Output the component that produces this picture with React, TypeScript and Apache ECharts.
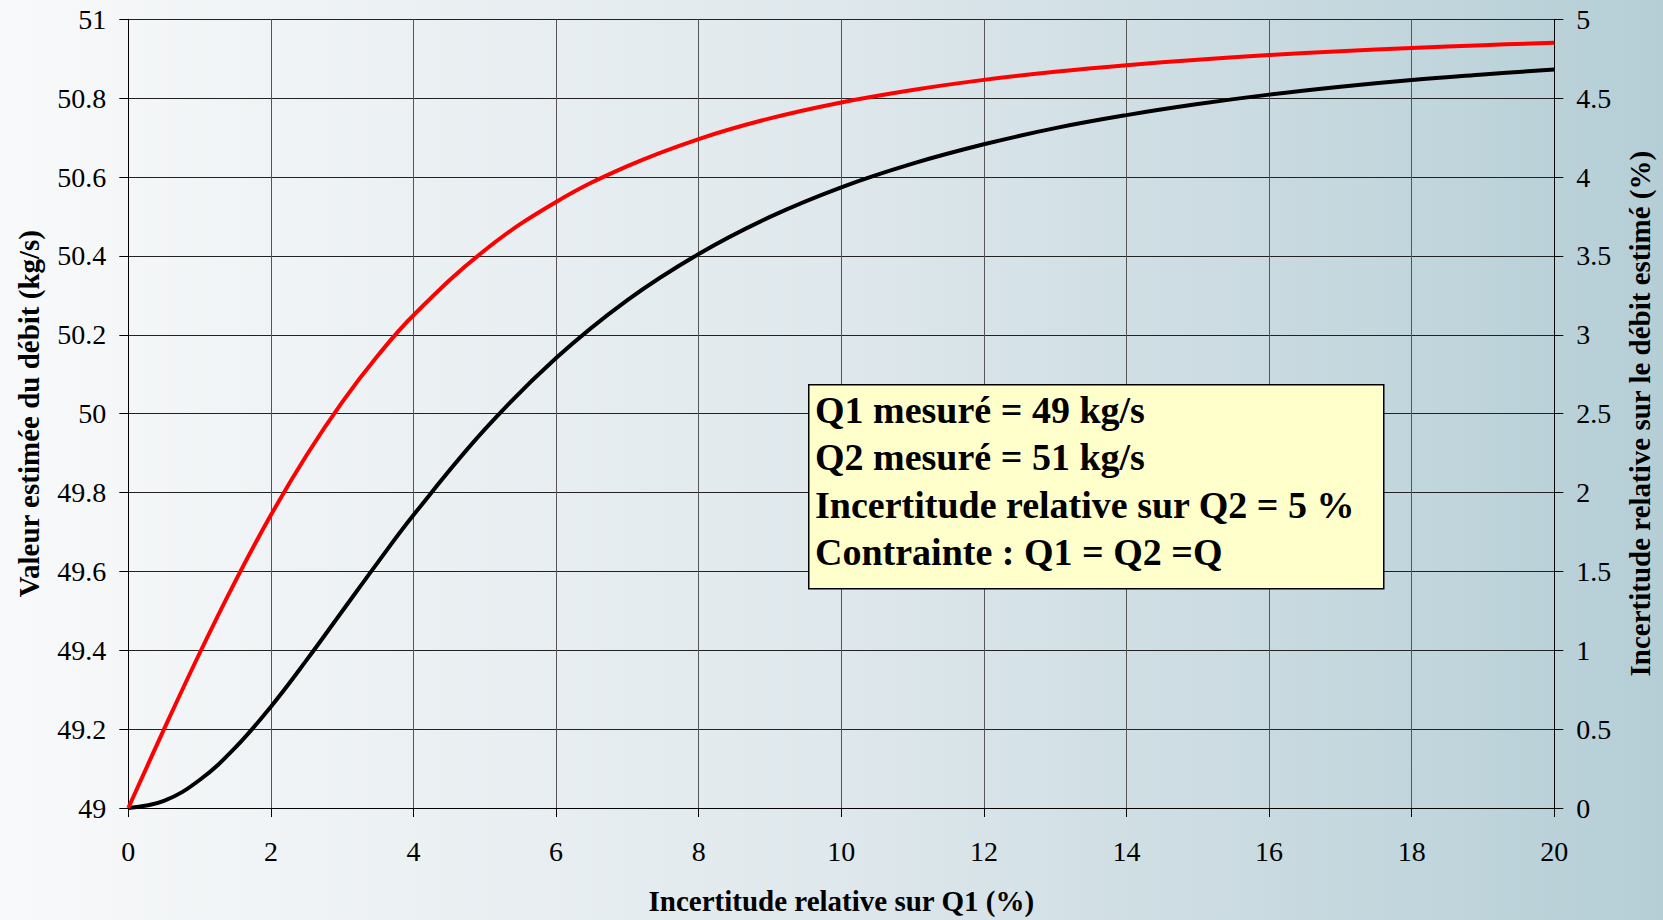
import React, { useEffect, useRef } from "react";
import * as echarts from "echarts";

const xValues = [0, 0.5, 1, 1.5, 2, 2.5, 3, 3.5, 4, 5, 6, 7, 8, 9, 10, 11, 12, 13, 14, 15, 16, 17, 18, 19, 20];
const debitEstime = [49, 49.018, 49.071, 49.153, 49.257, 49.375, 49.499, 49.623, 49.743, 49.96, 50.141, 50.288, 50.405, 50.499, 50.574, 50.634, 50.683, 50.724, 50.757, 50.785, 50.809, 50.829, 50.846, 50.86, 50.873];
const incertitudeEstime = [0, 0.498, 0.981, 1.437, 1.857, 2.236, 2.573, 2.868, 3.124, 3.536, 3.842, 4.069, 4.241, 4.372, 4.473, 4.552, 4.616, 4.667, 4.709, 4.744, 4.773, 4.797, 4.818, 4.836, 4.851];
const boxLines = [
  "Q1 mesuré = 49 kg/s",
  "Q2 mesuré = 51 kg/s",
  "Incertitude relative sur Q2 = 5 %",
  "Contrainte : Q1 = Q2 =Q",
];
const xName = "Incertitude relative sur Q1 (%)";
const yLeftName = "Valeur estimée du débit (kg/s)";
const yRightName = "Incertitude relative sur le débit estimé (%)";

const FONT = "Liberation Serif";

export default function App() {
  const ref = useRef<HTMLDivElement>(null);
  useEffect(() => {
    document.body.style.margin = "0";
    const chart = echarts.init(ref.current!, null, { renderer: "svg" });
    const labelStyle = { color: "#000", fontFamily: FONT, fontSize: 28 };
    const nameStyle = { color: "#000", fontFamily: FONT, fontSize: 29, fontWeight: "bold" as const };
    chart.setOption({
      animation: false,
      backgroundColor: new echarts.graphic.LinearGradient(0, 0, 1, 0, [
        { offset: 0, color: "#f8f9fa" },
        { offset: 0.5, color: "#dfe8ec" },
        { offset: 1, color: "#b5ced6" },
      ]),
      grid: { left: 128.3, right: 108.7, top: 19.3, bottom: 109.5, containLabel: false },
      xAxis: {
        type: "value",
        min: 0,
        max: 20,
        interval: 2,
        name: xName,
        nameLocation: "middle",
        nameGap: 78,
        nameTextStyle: nameStyle,
        axisLine: { show: true, onZero: false, lineStyle: { color: "#000", width: 1 } },
        axisTick: { show: true, length: 9, lineStyle: { color: "#000" } },
        axisLabel: { ...labelStyle, margin: 29 },
        splitLine: { show: true, lineStyle: { color: "#555", width: 1 } },
      },
      yAxis: [
        {
          type: "value",
          min: 49,
          max: 51,
          interval: 0.2,
          name: yLeftName,
          nameLocation: "middle",
          nameGap: 85,
          nameTextStyle: nameStyle,
          axisLine: { show: true, lineStyle: { color: "#000", width: 1 } },
          axisTick: { show: true, length: 9, lineStyle: { color: "#000" } },
          axisLabel: { ...labelStyle, margin: 22 },
          splitLine: { show: true, lineStyle: { color: "#222", width: 1 } },
        },
        {
          type: "value",
          min: 0,
          max: 5,
          interval: 0.5,
          position: "right",
          name: yRightName,
          nameLocation: "middle",
          nameGap: 71,
          nameRotate: 90,
          nameTextStyle: nameStyle,
          axisLine: { show: true, lineStyle: { color: "#000", width: 1 } },
          axisTick: { show: true, length: 9, lineStyle: { color: "#000" } },
          axisLabel: { ...labelStyle, margin: 22 },
          splitLine: { show: false },
        },
      ],
      series: [
        {
          type: "line",
          name: "Débit estimé",
          yAxisIndex: 0,
          data: xValues.map((x, i) => [x, debitEstime[i]]),
          smooth: 0.4,
          showSymbol: false,
          lineStyle: { color: "#000", width: 4 },
          z: 3,
        },
        {
          type: "line",
          name: "Incertitude",
          yAxisIndex: 1,
          data: xValues.map((x, i) => [x, incertitudeEstime[i]]),
          smooth: 0.4,
          showSymbol: false,
          lineStyle: { color: "#ff0000", width: 4 },
          z: 4,
        },
      ],
      graphic: [
        {
          type: "rect",
          left: 808,
          top: 384,
          shape: { width: 575, height: 204 },
          style: { fill: "#ffffcc", stroke: "#000", lineWidth: 1.5 },
          z: 10,
        },
        {
          type: "text",
          left: 815,
          top: 386,
          style: {
            text: boxLines.join("\n"),
            fill: "#000",
            fontFamily: FONT,
            fontSize: 38,
            fontWeight: "bold",
            lineHeight: 47.5,
          },
          z: 11,
        },
      ],
    });
    return () => chart.dispose();
  }, []);
  return <div ref={ref} style={{ width: 1663, height: 920 }} />;
}
